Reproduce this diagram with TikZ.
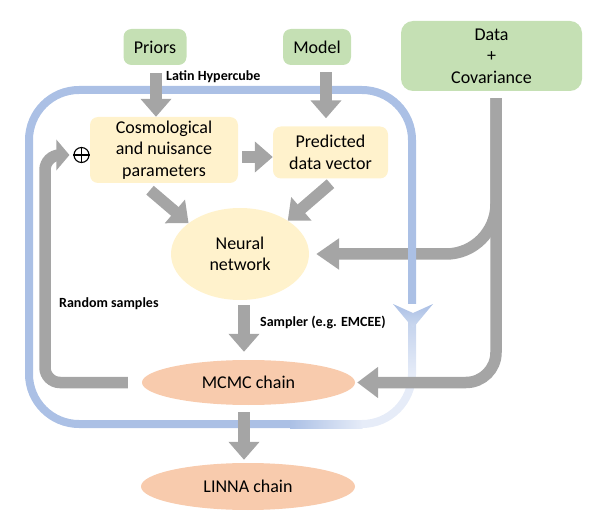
\documentclass[tikz,border=0pt]{standalone}
\usepackage{fontspec}
\setmainfont{Carlito}
\usetikzlibrary{shapes.geometric,arrows.meta}
\definecolor{gfill}{HTML}{C5E0B4}
\definecolor{yfill}{HTML}{FFF2CC}
\definecolor{ofill}{HTML}{F8CBAD}
\definecolor{garr}{HTML}{A5A5A5}
\definecolor{bloop}{HTML}{ABC0E5}
\definecolor{bpale}{HTML}{E6ECF8}
\begin{document}
\begin{tikzpicture}[x=1pt,y=-1pt,
  box/.style={rectangle, rounded corners=8pt, inner sep=0pt, align=center, font=\fontsize{18}{21.5}\selectfont},
  greenbox/.style={box, fill=gfill},
  yellowbox/.style={box, fill=yfill},
  oval/.style={ellipse, inner sep=0pt, align=center, font=\fontsize{18}{21.5}\selectfont},
  garrow/.style={draw=garr, line width=11.5pt, -{Triangle[width=30pt,length=18pt]}},
  blab/.style={font=\fontsize{14}{16}\selectfont\bfseries, inner sep=0pt, anchor=west},
  bline/.style={draw=bloop, line width=8pt}]
\useasboundingbox (0,0) rectangle (590,516);

% nodes
\node[greenbox, minimum width=63pt, minimum height=36pt] (priors) at (155,47) {Priors};
\node[greenbox, minimum width=68pt, minimum height=36pt] (model) at (317,47) {Model};
\node[greenbox, rounded corners=12pt, minimum width=181pt, minimum height=70pt] (data) at (491.5,56) {Data\\+\\Covariance};
\node[yellowbox, minimum width=148pt, minimum height=66pt] (cosmo) at (164,150) {Cosmological\\and nuisance\\parameters};
\node[yellowbox, minimum width=115pt, minimum height=52pt] (pred) at (330.5,152.5) {Predicted\\data vector};
\node[oval, fill=yfill, minimum width=138pt, minimum height=92pt] (nn) at (240,254) {Neural\\network};
\node[oval, fill=ofill, minimum width=213pt, minimum height=45pt] (mcmc) at (248.5,382.5) {MCMC chain};
\node[oval, fill=ofill, minimum width=214pt, minimum height=47pt] (linna) at (248,486.5) {LINNA chain};
\node[circle, draw, line width=1.1pt, minimum size=15pt, inner sep=0pt] (oplus) at (81.5,155) {};
\draw[line width=1.1pt] (oplus.north) -- (oplus.south) (oplus.west) -- (oplus.east);
\coordinate (rsx) at (45,0);

% labels
\node[blab] (lh) at (166,77) {Latin Hypercube};
\node[blab] (rs) at (59,304) {Random samples};
\node[blab] (samp) at (260,322) {Sampler (e.g. EMCEE)};

% data -> NN (below the blue loop)
\draw[garrow, rounded corners=50pt, -{Triangle[width=30pt,length=23pt]}]
  ([xshift=4.5pt,yshift=-7pt]data.south) -- ([xshift=4.5pt]data.south |- nn.east) -- ([xshift=7pt]nn.east);

% blue loop
\draw[bline, rounded corners=50pt] (412,304) -- (412,90) -- (29,90) -- (29,424) -- (291,424);
\shade[left color=bloop, right color=bpale] (290,420) rectangle (362.5,428);
\draw[draw=bpale, line width=8pt] (412,374) .. controls (412,401.6) and (389.6,424) .. (362,424);
\shade[top color=bloop!75!white, bottom color=bpale] (408,316) rectangle (416,374.5);
\shade[top color=bloop, bottom color=bloop!60!white] (393,304) -- (413,328) -- (433,304) -- (413,313) -- cycle;

% gray arrows
\draw[garrow] ([xshift=1pt,yshift=-8pt]priors.south) -- ([xshift=1pt]priors.south |- cosmo.north);
\draw[garrow, shorten >=8pt] ([xshift=9pt,yshift=-7pt]model.south) -- ([xshift=9pt]model.south |- pred.north);
\draw[garrow] ([xshift=4pt,yshift=-7pt]cosmo.east) -- ([yshift=-7pt]cosmo.east -| pred.west);
\draw[garrow] ([xshift=-14pt,yshift=-7pt]cosmo.south) -- (nn.149);
\draw[garrow] ([yshift=-5pt]pred.south) -- (nn.35);
\draw[garrow, shorten >=8pt] ([xshift=4pt,yshift=-5pt]nn.south) -- ([xshift=4pt]nn.south |- mcmc.north);
\draw[garrow, shorten >=3pt] ([xshift=-4.5pt,yshift=-7pt]mcmc.south) -- ([xshift=-4.5pt]mcmc.south |- linna.north);
\draw[garrow, rounded corners=30pt, -{Triangle[width=30pt,length=21pt]}]
  ([xshift=4.5pt,yshift=-7pt]data.south) -- ([xshift=4.5pt]data.south |- mcmc.east) -- ([xshift=2pt]mcmc.east);
\draw[garrow, rounded corners=15pt, shorten >=4pt, -{Triangle[width=30pt,length=13pt]}]
  ([xshift=-14pt]mcmc.west) -- (rsx |- mcmc.west) -- (rsx |- oplus.west) -- (oplus.west);
\end{tikzpicture}
\end{document}
